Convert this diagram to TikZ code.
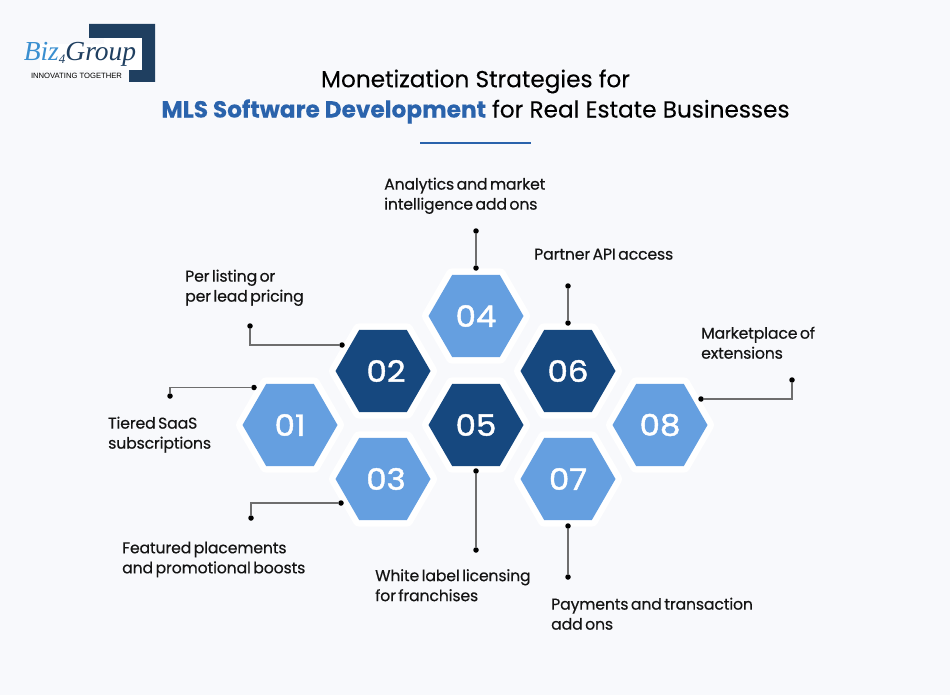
\documentclass[tikz,border=0pt]{standalone}
\usepackage{fontspec}
\setmainfont[FakeBold=0.2]{Poppins}
\newfontfamily\numfont[FakeBold=1.5, FakeStretch=1.1]{Poppins}
\newfontfamily\bodyfont[FakeBold=0.4, LetterSpace=-1, WordSpace=0.6]{Poppins}
\newfontfamily\logofont{Liberation Sans}
\newfontfamily\bizfont{Liberation Serif}
\usetikzlibrary{shapes.geometric}
\definecolor{pagebg}{HTML}{F8F9FC}
\definecolor{hexlight}{HTML}{659FE0}
\definecolor{hexdark}{HTML}{16487F}
\definecolor{titleblue}{HTML}{2A63AC}
\definecolor{logonavy}{HTML}{1F3F60}
\definecolor{logoblue}{HTML}{3A8FD0}
\definecolor{wiregray}{HTML}{6E6E6E}
\definecolor{inkblack}{HTML}{141414}

\begin{document}
\begin{tikzpicture}[x=1pt, y=-1pt,
    hexcell/.style={regular polygon, regular polygon sides=6, minimum size=95pt, inner sep=0pt,
      preaction={draw=white, line width=13pt, line join=round}, text=white,
      font=\numfont\fontsize{29.5}{30}\selectfont},
    hexpale/.style={hexcell, fill=hexlight},
    hexdeep/.style={hexcell, fill=hexdark},
    pin/.style={circle, fill=black, inner sep=0pt, minimum size=5.5pt},
    wire/.style={draw=wiregray, line width=1.2pt},
    caption/.style={anchor=north west, align=left, inner sep=0pt, text=inkblack,
      font=\bodyfont\fontsize{15.7}{20}\selectfont}]
  \useasboundingbox [fill=pagebg] (0,0) rectangle (950,695);

  % logo
  \fill [logonavy] (89,24) -- (155,24) -- (155,82) -- (129,82) -- (129,60) -- (104,60) -- (104,38)
    -- (89,38) -- cycle;
  \fill [white] (104,38) rectangle (142,70);
  \fill [white] (40,44) rectangle (129,70);
  \node (bizname) at (80,54) {\bizfont\itshape\fontsize{27.5}{27.5}\selectfont
    \textcolor{logoblue}{Biz}\textcolor{logonavy}{\raisebox{-3pt}{\fontsize{13}{13}\selectfont 4}Group}};
  \node (bizline) at (76.5,76) {\logofont\fontsize{7.65}{8}\selectfont INNOVATING TOGETHER};

  % title
  \node (title1) at (475.5,81.5) {\fontsize{23.2}{24}\selectfont Monetization Strategies for};
  \node (title2) at (475.5,111.5) {\fontsize{23.2}{24}\selectfont
    \textcolor{titleblue}{\textbf{MLS Software Development}} for Real Estate Businesses};
  \coordinate (ruleL) at (420,143);
  \coordinate (ruleR) at (531,143);
  \draw [titleblue, line width=1.5pt] (ruleL) -- (ruleR);

  % hexagons
  \node [hexpale] (hex1) at (290,425) {01};
  \node [hexdeep] (hex2) at (383,371) {\hspace*{6pt}02};
  \node [hexpale] (hex3) at (383,479) {\hspace*{6pt}03};
  \node [hexpale] (hex4) at (476,316) {04};
  \node [hexdeep] (hex5) at (476,425) {05};
  \node [hexdeep] (hex6) at (568,371) {06};
  \node [hexpale] (hex7) at (568,479) {07};
  \node [hexpale] (hex8) at (660,425) {08};

  % connector ends
  \node [pin] (pin1a) at (254,387.5) {};
  \node [pin] (pin1b) at (170,396) {};
  \node [pin] (pin2a) at (342,345) {};
  \node [pin] (pin2b) at (250,326) {};
  \node [pin] (pin3a) at (341,503) {};
  \node [pin] (pin3b) at (251,518) {};
  \node [pin] (pin4a) at (476,268) {};
  \node [pin] (pin4b) at (476,231) {};
  \node [pin] (pin5a) at (476,471) {};
  \node [pin] (pin5b) at (476,550) {};
  \node [pin] (pin6a) at (568,323) {};
  \node [pin] (pin6b) at (568,286) {};
  \node [pin] (pin7a) at (568,526) {};
  \node [pin] (pin7b) at (568,577) {};
  \node [pin] (pin8a) at (701,399) {};
  \node [pin] (pin8b) at (792,380) {};

  \draw [wire] (pin1a) -| (pin1b);
  \draw [wire] (pin2a) -| (pin2b);
  \draw [wire] (pin3a) -| (pin3b);
  \draw [wire] (pin4a) -- (pin4b);
  \draw [wire] (pin5a) -- (pin5b);
  \draw [wire] (pin6a) -- (pin6b);
  \draw [wire] (pin7a) -- (pin7b);
  \draw [wire] (pin8a) -| (pin8b);

  % captions
  \node [caption] (text1) at (108,416.5) {Tiered SaaS\\subscriptions};
  \node [caption] (text2) at (185,269.5) {Per listing or\\per lead pricing};
  \node [caption] (text3) at (122,541.5) {Featured placements\\and promotional boosts};
  \node [caption] (text4) at (384,177.5) {Analytics and market\\intelligence add ons};
  \node [caption] (text5) at (375,569) {White label licensing\\for franchises};
  \node [caption] (text6) at (534,248.5) {Partner API access};
  \node [caption] (text7) at (551,597.5) {Payments and transaction\\add ons};
  \node [caption] (text8) at (701,326.5) {Marketplace of\\extensions};
\end{tikzpicture}
\end{document}
